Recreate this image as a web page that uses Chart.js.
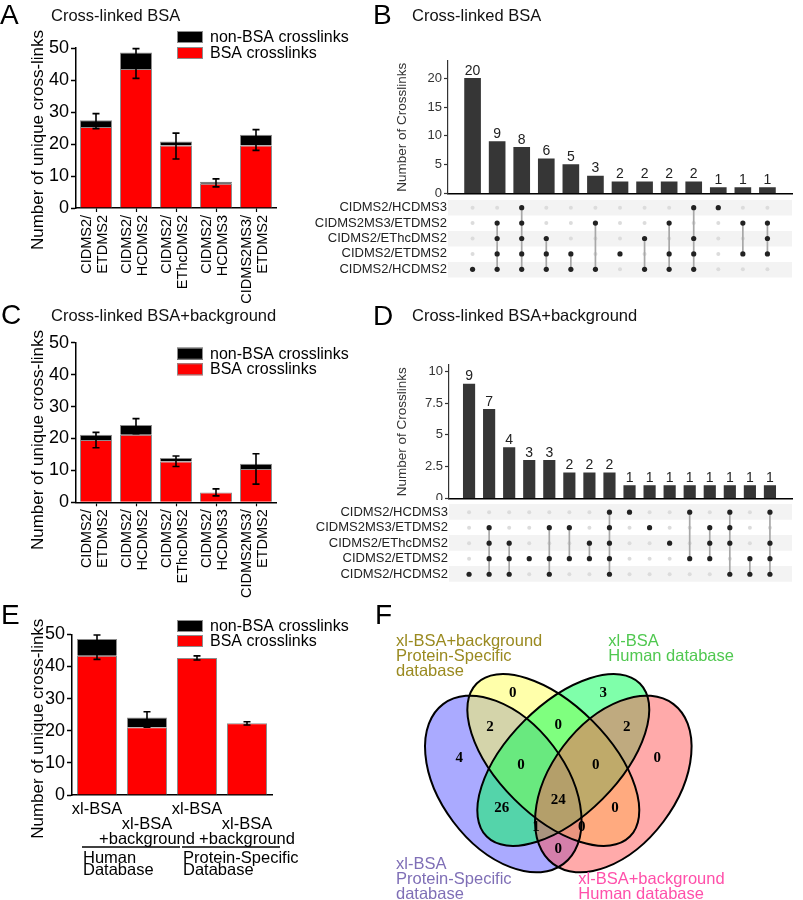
<!DOCTYPE html>
<html lang="en">
<head>
<meta charset="UTF-8">
<title>Cross-linked BSA</title>
<style>
  body { margin: 0; background: #fff; font-family: 'Liberation Sans', Arial, sans-serif; }
  #page { position: relative; width: 803px; height: 900px; overflow: hidden; }
  .box { position: absolute; }
  .letter { position: absolute; font-size: 28px; line-height: 1; color: #000; }
  .ptitle { position: absolute; font-size: 16.5px; line-height: 1; color: #111; white-space: nowrap; }
</style>
</head>
<body>
<div id="page">
  <div class="box" style="left:0;top:0;width:370px;height:312px"><canvas id="chartA"></canvas></div>
  <div class="box" style="left:396px;top:0;width:407px;height:200px"><canvas id="chartB"></canvas></div>
  <div class="box" style="left:270px;top:196px;width:533px;height:86px"><canvas id="matrixB"></canvas></div>
  <div class="box" style="left:0;top:300px;width:370px;height:312px"><canvas id="chartC"></canvas></div>
  <div class="box" style="left:396px;top:300px;width:407px;height:200px"><canvas id="chartD"></canvas></div>
  <div class="box" style="left:270px;top:500px;width:533px;height:86px"><canvas id="matrixD"></canvas></div>
  <div class="box" style="left:0;top:580px;width:370px;height:320px"><canvas id="chartE"></canvas></div>
  <div class="box" style="left:310px;top:580px;width:493px;height:320px"><canvas id="chartF"></canvas></div>

  <div class="letter" style="left:0;top:1px">A</div>
  <div class="ptitle" style="left:51px;top:7px">Cross-linked BSA</div>
  <div class="letter" style="left:373px;top:1px">B</div>
  <div class="ptitle" style="left:412px;top:7px">Cross-linked BSA</div>
  <div class="letter" style="left:1px;top:301px">C</div>
  <div class="ptitle" style="left:51px;top:307px">Cross-linked BSA+background</div>
  <div class="letter" style="left:373px;top:302px">D</div>
  <div class="ptitle" style="left:412px;top:307px">Cross-linked BSA+background</div>
  <div class="letter" style="left:1px;top:601px">E</div>
  <div class="letter" style="left:375px;top:601px">F</div>
</div>

<script src="https://cdn.jsdelivr.net/npm/chart.js"></script>
<script>
// ---- data ----
const barTicks = [0, 10, 20, 30, 40, 50];

const labelsA = [['CIDMS2/', 'ETDMS2'], ['CIDMS2/', 'HCDMS2'], ['CIDMS2/', 'EThcDMS2'], ['CIDMS2/', 'HCDMS3'], ['CIDMS2MS3/', 'ETDMS2']];
const bsaA = [25.3, 43.4, 19.5, 7.6, 19.5];
const nonBsaA = [2.1, 5.2, 1.3, 0.6, 3.4];
const errLowA = [24.8, 40.5, 15.3, 6.6, 18.0];
const errHighA = [29.5, 49.8, 23.4, 9.1, 24.5];

const labelsC = [['CIDMS2/', 'ETDMS2'], ['CIDMS2/', 'HCDMS2'], ['CIDMS2/', 'EThcDMS2'], ['CIDMS2/', 'HCDMS3'], ['CIDMS2MS3/', 'ETDMS2']];
const bsaC = [19.5, 21.2, 12.8, 3.1, 10.4];
const nonBsaC = [1.7, 3.0, 1.1, 0, 1.7];
const errLowC = [17.1, 21.5, 11.2, 2.0, 5.7];
const errHighC = [21.9, 26.2, 14.5, 4.2, 15.2];

const labelsE = [['xl-BSA'], ['', 'xl-BSA', '+background'], ['xl-BSA'], ['', 'xl-BSA', '+background']];
const bsaE = [43.3, 21.1, 42.6, 22.3];
const nonBsaE = [5.2, 3.0, 0, 0];
const errLowE = [42.2, 21.1, 42.0, 21.8];
const errHighE = [49.8, 25.9, 43.3, 22.8];
const groupNamesE = [['Human', 'Database'], ['Protein-Specific', 'Database']];
const groupSpansE = [[0, 1], [2, 3]];

const setNames = ['CIDMS2/HCDMS3', 'CIDMS2MS3/ETDMS2', 'CIDMS2/EThcDMS2', 'CIDMS2/ETDMS2', 'CIDMS2/HCDMS2'];

const ticksB = [0, 5, 10, 15, 20];
const countsB = [20, 9, 8, 6, 5, 3, 2, 2, 2, 2, 1, 1, 1];
const membersB = [[4], [1, 2, 3, 4], [0, 1, 2, 3, 4], [2, 3, 4], [3, 4], [1, 4], [3], [2, 4], [1, 3, 4], [0, 2, 3, 4], [0], [1, 3], [1, 2, 3]];

const ticksD = [0, 2.5, 5, 7.5, 10];
const countsD = [9, 7, 4, 3, 3, 2, 2, 2, 1, 1, 1, 1, 1, 1, 1, 1];
const membersD = [[4], [1, 2, 3, 4], [2, 3, 4], [3], [1, 3, 4], [1, 3], [2, 3], [0, 1, 2, 3, 4], [0], [1], [2], [0, 3], [1, 2, 3], [0, 1, 2, 4], [3, 4], [0, 2, 3, 4]];

// venn: sets B (blue), Y (yellow), G (green), P (pink)
const vennSetNames = [
  ['xl-BSA', 'Protein-Specific', 'database'],
  ['xl-BSA+background', 'Protein-Specific', 'database'],
  ['xl-BSA', 'Human database'],
  ['xl-BSA+background', 'Human database']
];
const vennRegions = ['Y', 'G', 'BY', 'YG', 'GP', 'B', 'BYG', 'YGP', 'P', 'BG', 'BYGP', 'YP', 'BGP', 'BYP', 'BP'];
const vennCounts = [0, 3, 2, 0, 2, 4, 0, 0, 0, 26, 24, 0, 1, 0, 0];

// ---- layout for the venn (canvas units) ----
const vennShapes = [
  { cx: 193.3, cy: 204, a: 100, b: 62.7, rot: 53, fill: 'rgba(85,85,255,0.5)' },
  { cx: 243.3, cy: 180, a: 108.3, b: 55.3, rot: 45, fill: 'rgba(255,255,85,0.5)' },
  { cx: 253.3, cy: 180, a: 108.3, b: 55.3, rot: -45, fill: 'rgba(0,255,85,0.5)' },
  { cx: 303.3, cy: 204, a: 100, b: 62.7, rot: -53, fill: 'rgba(255,85,85,0.5)' }
];
const vennSetLabelPos = [
  { x: 86, y: 284, color: '#7f6fb6' },
  { x: 86, y: 61.7, color: '#9a8a20' },
  { x: 298.3, y: 61.7, color: '#50c850' },
  { x: 268.3, y: 299, color: '#ff50aa' }
];
const vennCountPos = {
  Y: [202.7, 113.3], G: [293.3, 113.3], BY: [180, 146.7], YG: [248.3, 145], GP: [316.7, 146.7],
  B: [149.3, 178.3], BYG: [211, 185], YGP: [285.7, 185], P: [347.3, 178.3], BG: [191.7, 228.3],
  BYGP: [248.3, 220], YP: [305, 227.7], BGP: [226, 247.3], BYP: [271.7, 247.3], BP: [248.3, 269.3]
};

Chart.defaults.font.family = "'Liberation Sans', Arial, sans-serif";
Chart.defaults.color = '#000';
Chart.defaults.animation = false;
Chart.defaults.plugins.legend.display = false;
Chart.defaults.plugins.tooltip.enabled = false;

const SANS = "'Liberation Sans', Arial, sans-serif";
function fixWidth(w) { return s => { s.width = w; }; }
function fixHeight(h) { return s => { s.height = h; }; }
// fixed width, and no extra room reserved for the end labels
function fixWidthTight(w) { return s => { s.width = w; s.paddingTop = 0; s.paddingBottom = 0; }; }

// ---- plugins ----
const errorBarPlugin = {
  id: 'errorBars',
  afterDatasetsDraw(chart, args, opts) {
    const { ctx, scales: { x, y } } = chart;
    ctx.save();
    ctx.strokeStyle = '#000';
    ctx.lineWidth = 1.6;
    opts.low.forEach((lo, i) => {
      const px = x.getPixelForValue(i);
      const y1 = y.getPixelForValue(lo), y2 = y.getPixelForValue(opts.high[i]);
      ctx.beginPath();
      ctx.moveTo(px, y1); ctx.lineTo(px, y2);
      ctx.moveTo(px - 3.5, y1); ctx.lineTo(px + 3.5, y1);
      ctx.moveTo(px - 3.5, y2); ctx.lineTo(px + 3.5, y2);
      ctx.stroke();
    });
    ctx.restore();
  }
};

const boxLegendPlugin = {
  id: 'boxLegend',
  afterDraw(chart, args, opts) {
    const ctx = chart.ctx;
    ctx.save();
    ctx.font = '16px ' + SANS;
    ctx.textBaseline = 'middle';
    chart.data.datasets.slice().reverse().forEach((ds, i) => {
      const top = opts.y + i * opts.step;
      ctx.fillStyle = ds.backgroundColor;
      ctx.fillRect(opts.x, top, 26, 12);
      ctx.strokeStyle = '#8c8c8c';
      ctx.lineWidth = 1;
      ctx.strokeRect(opts.x + 0.5, top + 0.5, 25, 11);
      ctx.fillStyle = '#000';
      ctx.fillText(ds.label, opts.x + 33, top + 6.5);
    });
    ctx.restore();
  }
};

const sideTitlePlugin = {
  id: 'sideTitle',
  afterDraw(chart, args, opts) {
    const ctx = chart.ctx;
    ctx.save();
    ctx.translate(opts.x, opts.y);
    ctx.rotate(-Math.PI / 2);
    ctx.font = '17px ' + SANS;
    ctx.fillStyle = '#000';
    ctx.textAlign = 'center';
    ctx.textBaseline = 'middle';
    ctx.fillText(opts.text, 0, 0);
    ctx.restore();
  }
};

const groupPlugin = {
  id: 'groups',
  afterDraw(chart, args, opts) {
    const { ctx, scales: { x } } = chart;
    ctx.save();
    ctx.font = '16.5px ' + SANS;
    ctx.textBaseline = 'middle';
    ctx.fillStyle = '#000';
    ctx.strokeStyle = '#000';
    ctx.lineWidth = 1.5;
    opts.spans.forEach((sp, g) => {
      const x1 = x.getPixelForValue(sp[0]) - 15, x2 = x.getPixelForValue(sp[1]) + 33;
      ctx.beginPath(); ctx.moveTo(x1, opts.lineY); ctx.lineTo(x2, opts.lineY); ctx.stroke();
      opts.names[g].forEach((t, k) => ctx.fillText(t, x1 + 1, opts.lineY + 11 + k * 12.5));
    });
    ctx.restore();
  }
};

const barValuesPlugin = {
  id: 'barValues',
  afterDatasetsDraw(chart) {
    const ctx = chart.ctx;
    const ds = chart.data.datasets[0];
    ctx.save();
    ctx.font = '14px ' + SANS;
    ctx.fillStyle = '#222';
    ctx.textAlign = 'center';
    ctx.textBaseline = 'bottom';
    chart.getDatasetMeta(0).data.forEach((bar, i) => ctx.fillText(String(ds.data[i].y), bar.x, bar.y - 0.5));
    ctx.restore();
  }
};

const vennPlugin = {
  id: 'venn',
  afterDraw(chart, args, opts) {
    const { ctx, scales: { x, y } } = chart;
    const ux = Math.abs(x.getPixelForValue(1) - x.getPixelForValue(0));
    const uy = Math.abs(y.getPixelForValue(1) - y.getPixelForValue(0));
    const path = s => {
      ctx.beginPath();
      ctx.ellipse(x.getPixelForValue(s.cx), y.getPixelForValue(s.cy), s.a * ux, s.b * uy, s.rot * Math.PI / 180, 0, 2 * Math.PI);
    };
    ctx.save();
    vennShapes.forEach(s => { path(s); ctx.fillStyle = s.fill; ctx.fill(); });
    ctx.strokeStyle = '#000';
    ctx.lineWidth = 2;
    vennShapes.forEach(s => { path(s); ctx.stroke(); });

    ctx.font = "bold 15px 'Liberation Serif', 'Times New Roman', serif";
    ctx.fillStyle = '#000';
    ctx.textAlign = 'center';
    ctx.textBaseline = 'middle';
    vennRegions.forEach((r, i) => {
      const p = vennCountPos[r];
      ctx.fillText(String(vennCounts[i]), x.getPixelForValue(p[0]), y.getPixelForValue(p[1]));
    });

    ctx.font = '16.5px ' + SANS;
    ctx.textAlign = 'left';
    vennSetNames.forEach((lines, i) => {
      const p = vennSetLabelPos[i];
      ctx.fillStyle = p.color;
      lines.forEach((t, k) => ctx.fillText(t, x.getPixelForValue(p.x), y.getPixelForValue(p.y + k * 15)));
    });
    ctx.restore();
  }
};

// ---- stacked bar panels (A, C, E) ----
function barPanel(id, cfg) {
  return new Chart(document.getElementById(id), {
    type: 'bar',
    data: {
      labels: cfg.labels,
      datasets: [
        { label: 'BSA crosslinks', data: cfg.bsa, backgroundColor: '#ff0000', borderColor: '#8c8c8c', borderWidth: 1, barPercentage: 0.8, categoryPercentage: 1 },
        { label: 'non-BSA crosslinks', data: cfg.nonBsa, backgroundColor: '#000000', borderColor: '#8c8c8c', borderWidth: 1, barPercentage: 0.8, categoryPercentage: 1 }
      ]
    },
    options: {
      responsive: true,
      maintainAspectRatio: false,
      layout: { padding: cfg.padding },
      scales: {
        x: {
          stacked: true,
          grid: { offset: false, drawOnChartArea: false, drawTicks: cfg.xTicks, tickLength: 4, tickColor: '#000', tickWidth: 1.2 },
          border: { color: '#000', width: 1.5 },
          ticks: cfg.xTickOpts,
          afterFit: fixHeight(cfg.xHeight)
        },
        y: {
          stacked: true,
          min: 0,
          max: 50,
          afterBuildTicks: s => { s.ticks = barTicks.map(v => ({ value: v })); },
          grid: { drawOnChartArea: false, tickLength: 5, tickColor: '#000', tickWidth: 1.5 },
          border: { color: '#000', width: 1.5 },
          ticks: { font: { size: 18 }, padding: 2, color: '#000' },
          afterFit: fixWidth(cfg.yWidth)
        }
      },
      plugins: {
        errorBars: { low: cfg.errLow, high: cfg.errHigh },
        boxLegend: cfg.legend,
        sideTitle: { text: 'Number of unique cross-links', x: 38, y: cfg.titleY },
        groups: cfg.groups || { spans: [], names: [] }
      }
    },
    plugins: [errorBarPlugin, boxLegendPlugin, sideTitlePlugin, groupPlugin]
  });
}

const rotatedTicks = { maxRotation: 90, minRotation: 90, autoSkip: false, labelOffset: -9, font: { size: 14.5, lineHeight: 1.08 }, padding: 3, color: '#000' };

barPanel('chartA', {
  labels: labelsA, bsa: bsaA, nonBsa: nonBsaA, errLow: errLowA, errHigh: errHighA,
  padding: { top: 48, right: 94, left: 0, bottom: 0 }, yWidth: 76, xHeight: 104,
  xTicks: true, xTickOpts: rotatedTicks,
  legend: { x: 177, y: 31, step: 16 }, titleY: 140
});

barPanel('chartC', {
  labels: labelsC, bsa: bsaC, nonBsa: nonBsaC, errLow: errLowC, errHigh: errHighC,
  padding: { top: 42.7, right: 94, left: 0, bottom: 0 }, yWidth: 76, xHeight: 109.7,
  xTicks: true, xTickOpts: rotatedTicks,
  legend: { x: 177, y: 47.7, step: 15.6 }, titleY: 140
});

barPanel('chartE', {
  labels: labelsE, bsa: bsaE, nonBsa: nonBsaE, errLow: errLowE, errHigh: errHighE,
  padding: { top: 54.3, right: 98, left: 0, bottom: 0 }, yWidth: 72, xHeight: 105,
  xTicks: false, xTickOpts: { maxRotation: 0, minRotation: 0, autoSkip: false, font: { size: 16.5, lineHeight: 0.91 }, padding: 6.5, color: '#000' },
  legend: { x: 177, y: 40, step: 15 }, titleY: 148.7,
  groups: { spans: groupSpansE, names: groupNamesE, lineY: 267 }
});

// ---- upset panels (B, D) ----
function upsetBars(id, counts, tickVals, cfg) {
  return new Chart(document.getElementById(id), {
    type: 'bar',
    data: { datasets: [{ data: counts.map((c, i) => ({ x: i, y: c })), backgroundColor: '#363636', barThickness: cfg.barW }] },
    options: {
      responsive: true,
      maintainAspectRatio: false,
      layout: { padding: { top: cfg.top, right: 11, left: 0, bottom: 0 } },
      scales: {
        x: {
          type: 'linear', min: -1, max: cfg.xMax, offset: false,
          ticks: { display: false }, grid: { display: false },
          border: { color: '#000', width: 1.5 },
          afterFit: fixHeight(cfg.xH)
        },
        y: {
          min: 0, max: cfg.yMax,
          afterBuildTicks: s => { s.ticks = tickVals.map(v => ({ value: v })); },
          ticks: { font: { size: 13 }, color: '#333', padding: 2, callback: v => String(v) },
          grid: { drawOnChartArea: false, tickLength: 4, tickColor: '#333', tickWidth: 1.2 },
          border: { color: '#333', width: 1.2 },
          title: { display: true, text: 'Number of Crosslinks', font: { size: 13.5, lineHeight: 1 }, color: '#333', padding: 0 },
          afterFit: fixWidthTight(cfg.yW)
        }
      }
    },
    plugins: [barValuesPlugin]
  });
}

function upsetMatrix(id, members, cfg) {
  const gray = [], black = [], links = [];
  members.forEach((rows, c) => {
    setNames.forEach((_, r) => (rows.includes(r) ? black : gray).push({ x: c, y: r }));
    if (rows.length > 1) {
      links.push({
        type: 'line',
        data: [{ x: c, y: Math.min(...rows) }, { x: c, y: Math.max(...rows) }],
        borderColor: '#a8a8a8', borderWidth: 1.7, pointRadius: 0, order: 1
      });
    }
  });
  return new Chart(document.getElementById(id), {
    type: 'scatter',
    data: {
      datasets: [
        { data: black, pointRadius: 2.6, backgroundColor: '#222', borderWidth: 0, order: 0 },
        ...links,
        { data: gray, pointRadius: 2, backgroundColor: '#dcdcdc', borderWidth: 0, order: 2 }
      ]
    },
    options: {
      responsive: true,
      maintainAspectRatio: false,
      layout: { padding: cfg.padding },
      scales: {
        x: { type: 'linear', min: -1, max: cfg.xMax, display: false },
        y: {
          type: 'linear', reverse: true, min: -0.5, max: setNames.length - 0.5,
          afterBuildTicks: s => { s.ticks = setNames.map((_, i) => ({ value: i })); },
          ticks: { autoSkip: false, font: { size: 13 }, color: '#222', padding: 1, callback: v => setNames[v] },
          grid: { drawTicks: false, lineWidth: cfg.rowH, color: ctx => (ctx.index % 2 === 0 ? '#f3f3f3' : 'rgba(0,0,0,0)') },
          border: { display: false },
          afterFit: fixWidthTight(cfg.yW)
        }
      }
    }
  });
}

upsetBars('chartB', countsB, ticksB, { barW: 16, top: 61, xMax: 13, xH: 6.7, yMax: 23, yW: 52 });
upsetMatrix('matrixB', membersB, { xMax: 13, yW: 178, rowH: 15.5, padding: { top: 3.5, bottom: 5, right: 11, left: 0 } });

upsetBars('chartD', countsD, ticksD, { barW: 11.5, top: 65, xMax: 16.1, xH: 1.7, yMax: 10.5, yW: 53 });
upsetMatrix('matrixD', membersD, { xMax: 16.1, yW: 179, rowH: 15.75, padding: { top: 4.4, bottom: 2.85, right: 11, left: 0 } });

// ---- venn (F) ----
new Chart(document.getElementById('chartF'), {
  type: 'scatter',
  data: { datasets: [] },
  options: {
    responsive: true,
    maintainAspectRatio: false,
    layout: { padding: 0 },
    scales: {
      x: { type: 'linear', min: 0, max: 493, display: false },
      y: { type: 'linear', min: 0, max: 320, reverse: true, display: false }
    }
  },
  plugins: [vennPlugin]
});
</script>
</body>
</html>
